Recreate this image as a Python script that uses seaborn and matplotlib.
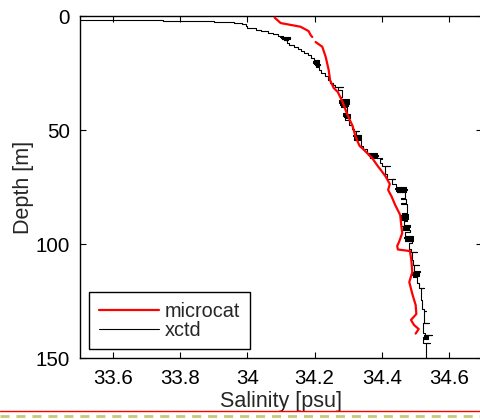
import matplotlib
matplotlib.use("Agg")
import matplotlib.pyplot as plt
from matplotlib.lines import Line2D
import seaborn as sns
import pandas as pd

# microcat profile (salinity, depth); segment id marks the small gap near 10 m
micro_sal = [34.081, 34.099, 34.158, 34.182, 34.188, 34.193,
             34.203, 34.223, 34.233, 34.242, 34.246, 34.257, 34.269, 34.283,
             34.298, 34.313, 34.322, 34.334, 34.342, 34.372, 34.388, 34.397,
             34.412, 34.424, 34.419, 34.430, 34.440, 34.455, 34.458, 34.461,
             34.452, 34.446, 34.448, 34.484, 34.488, 34.491, 34.482, 34.491,
             34.501, 34.503, 34.487, 34.496, 34.510, 34.501]
micro_depth = [0.7, 3.1, 4.7, 6.6, 8.3, 9.2,
               11.4, 13.5, 17.9, 23.7, 28.1, 31.6, 33.3, 37.6,
               43.4, 48.2, 52.9, 57.0, 58.0, 62.4, 65.8, 67.5,
               70.5, 73.7, 76.3, 79.4, 82.9, 87.3, 91.7, 95.2,
               98.9, 100.9, 102.4, 103.1, 107.0, 112.3, 116.7, 121.9,
               126.8, 130.7, 133.3, 135.5, 137.3, 139.3]
micro_seg = [0] * 6 + [1] * 38

# xctd profile (stepped): salinity holds from each depth to the next
xctd_sal = [33.40, 33.75, 33.90, 33.96, 33.985, 33.995, 34.000, 34.025, 34.040, 34.060,
            34.075, 34.090, 34.105, 34.124, 34.098, 34.128, 34.100, 34.126, 34.104, 34.122,
            34.108, 34.118,
            34.125, 34.138, 34.150, 34.160, 34.168, 34.180, 34.190, 34.198, 34.213, 34.194,
            34.214, 34.196, 34.213, 34.197, 34.215, 34.200, 34.214, 34.205, 34.212, 34.220,
            34.230, 34.240, 34.245, 34.255, 34.262, 34.285, 34.270, 34.283, 34.278, 34.302,
            34.272, 34.303, 34.274, 34.302, 34.276, 34.300, 34.278, 34.298, 34.298, 34.286,
            34.306, 34.285, 34.306, 34.287, 34.304, 34.290, 34.302, 34.310, 34.318, 34.332,
            34.322, 34.338, 34.314, 34.338, 34.316, 34.337, 34.318, 34.337, 34.345, 34.355,
            34.387, 34.360, 34.388, 34.362, 34.386, 34.365, 34.380, 34.400, 34.395, 34.402,
            34.425, 34.410, 34.417, 34.440, 34.430, 34.442, 34.472, 34.440, 34.474, 34.442,
            34.472, 34.445, 34.470, 34.457, 34.472, 34.457, 34.474, 34.460, 34.477, 34.455,
            34.478, 34.456, 34.477, 34.458, 34.474, 34.465, 34.484, 34.460, 34.484, 34.462,
            34.482, 34.464, 34.483, 34.470, 34.492, 34.466, 34.494, 34.468, 34.493, 34.470,
            34.490, 34.482, 34.487, 34.506, 34.490, 34.494, 34.512, 34.496, 34.513, 34.489,
            34.512, 34.490, 34.510, 34.492, 34.505, 34.511, 34.526, 34.516, 34.521, 34.526,
            34.531, 34.526, 34.542, 34.522, 34.528, 34.549, 34.525, 34.538, 34.523, 34.537,
            34.524, 34.544, 34.531, 34.531]
xctd_depth = [1.2, 1.6, 2.0, 2.5, 3.1, 3.7, 4.5, 5.3, 6.2, 6.6,
              7.6, 8.0, 8.6, 9.0, 9.2, 9.4, 9.6, 9.8, 10.0, 10.2,
              10.4, 10.6,
              11.8, 12.6, 13.5, 14.5, 15.4, 16.2, 17.2, 18.5, 19.3, 19.6,
              19.9, 20.2, 20.5, 20.8, 21.1, 21.4, 21.7, 22.0, 22.2, 23.5,
              25.0, 26.5, 28.0, 29.5, 30.3, 31.0, 31.1, 32.5, 35.5, 36.5,
              36.9, 37.3, 37.7, 38.1, 38.5, 38.9, 39.3, 39.7, 40.5, 42.5,
              42.9, 43.3, 43.7, 44.1, 44.5, 44.9, 45.8, 48.0, 49.5, 50.5,
              50.6, 52.0, 52.4, 52.8, 53.2, 53.6, 54.0, 54.5, 57.0, 58.5,
              60.0, 60.4, 60.8, 61.2, 61.6, 62.0, 62.3, 62.4, 62.5, 64.3,
              65.8, 65.9, 69.5, 71.4, 71.5, 73.8, 75.0, 75.4, 75.8, 76.2,
              76.6, 77.0, 77.4, 80.0, 80.1, 82.2, 82.3, 86.5, 86.9, 87.3,
              87.7, 88.1, 88.5, 88.9, 89.3, 89.7, 91.5, 91.9, 92.3, 92.7,
              93.1, 93.5, 93.9, 94.8, 96.5, 96.9, 97.3, 97.7, 98.1, 98.5,
              98.9, 99.5, 102.3, 103.4, 103.5, 107.0, 109.0, 109.1, 112.0, 112.4,
              112.8, 113.2, 113.6, 114.0, 114.5, 117.0, 119.4, 119.5, 124.5, 128.5,
              129.4, 129.5, 134.7, 134.8, 139.0, 140.0, 140.1, 140.5, 140.9, 141.3,
              141.7, 143.4, 143.5, 152.0]

x_ticks = [33.6, 33.8, 34.0, 34.2, 34.4, 34.6]
x_tick_labels = ["33.6", "33.8", "34", "34.2", "34.4", "34.6"]
y_ticks = [0, 50, 100, 150]

sns.set_style("ticks")
plt.rcParams["font.family"] = ["Liberation Sans", "DejaVu Sans"]
plt.rcParams["lines.scale_dashes"] = False

fig = plt.figure(figsize=(4.81, 4.19), dpi=100)
ax = fig.add_axes([79.5 / 481, 1 - 358 / 419, 403 / 481, 342 / 419])

micro_df = pd.DataFrame({"sal": micro_sal, "depth": micro_depth, "seg": micro_seg})
xctd_df = pd.DataFrame({"sal": xctd_sal, "depth": xctd_depth})

sns.lineplot(data=xctd_df, x="sal", y="depth", sort=False, estimator=None,
             color="black", lw=0.8, drawstyle="steps-pre", ax=ax, legend=False, zorder=2)
sns.lineplot(data=micro_df, x="sal", y="depth", units="seg", sort=False, estimator=None,
             color="red", lw=1.6, ax=ax, legend=False, zorder=3)

ax.set_xlim(33.5, 34.7)
ax.set_ylim(150, 0)
ax.set_xticks(x_ticks)
ax.set_xticklabels(x_tick_labels)
ax.set_yticks(y_ticks)
ax.tick_params(direction="in", length=4, width=0.8, top=True, right=True,
               labelsize=14.8, colors="black", pad=7)
ax.tick_params(axis="x", pad=8)
for s in ax.spines.values():
    s.set_visible(True)
    s.set_linewidth(1.0)
    s.set_color("black")
ax.set_xlabel("Salinity [psu]", fontsize=15.5, labelpad=2)
ax.set_ylabel("Depth [m]", fontsize=15.5, labelpad=1)

handles = [Line2D([], [], color="red", lw=1.6, label="microcat"),
           Line2D([], [], color="black", lw=0.8, label="xctd")]
leg = ax.legend(handles=handles, loc="lower left", bbox_to_anchor=(0.024, 0.025),
                borderaxespad=0, fontsize=14.3, handlelength=3.0, handletextpad=0.3,
                labelspacing=0.0, borderpad=0.5, fancybox=False, framealpha=1)
leg.get_frame().set_edgecolor("black")
leg.get_frame().set_linewidth(1.0)

# page decorations under the figure
fig.add_artist(Line2D([0, 1], [1 - 411 / 419] * 2, color="red", lw=1.0,
                      transform=fig.transFigure))
fig.add_artist(Line2D([0, 1], [1 - 415.7 / 419] * 2, color="#c8c878", lw=2.0,
                      dashes=(6.5, 5.0), transform=fig.transFigure))

fig.savefig("out.png", dpi=100)
